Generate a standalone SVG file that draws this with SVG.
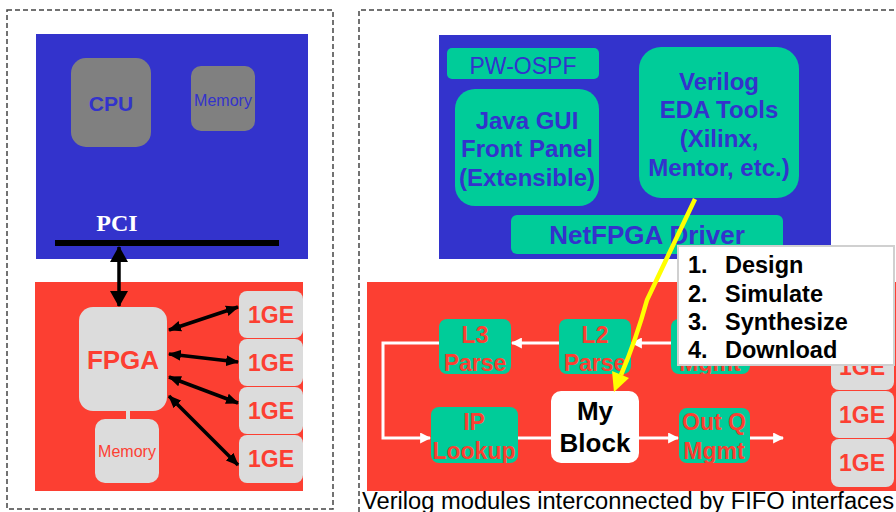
<svg xmlns="http://www.w3.org/2000/svg" width="896" height="512" viewBox="0 0 896 512">
<defs>
<style>
.frame{fill:none;stroke:#444;stroke-width:1.5;stroke-dasharray:5,3}
.blue{fill:#3333cc}
.red{fill:#fc3f32}
.gray{fill:#808080}
.lg{fill:#dcdcdc}
.grn{fill:#00cc99}
.t{font-family:"Liberation Sans",Arial,sans-serif;text-anchor:middle}
.b{font-weight:bold}
.tb{fill:#3333cc}
.tr{fill:#fc3f32}
.blk{stroke:#000;stroke-width:3.5;fill:none}
.wht{stroke:#fff;stroke-width:3;fill:none}
.list{font-family:"Liberation Sans",Arial,sans-serif;font-weight:bold;font-size:23.5px;fill:#000}
</style>
<marker id="ab" viewBox="0 0 12 10" refX="11" refY="5" markerWidth="13" markerHeight="11" markerUnits="userSpaceOnUse" orient="auto-start-reverse">
<path d="M0,0 L12,5 L0,10 Z" fill="#000"/>
</marker>
<marker id="aw" viewBox="0 0 10 10" refX="9" refY="5" markerWidth="11" markerHeight="11" markerUnits="userSpaceOnUse" orient="auto">
<path d="M0,0 L10,5 L0,10 Z" fill="#fff"/>
</marker>
<marker id="pciHead" viewBox="0 0 16 18" refX="15" refY="9" markerWidth="16" markerHeight="18" markerUnits="userSpaceOnUse" orient="auto-start-reverse">
<path d="M0,0 L16,9 L0,18 Z" fill="#000"/>
</marker>
</defs>

<!-- Left panel -->
<rect class="frame" x="7" y="10" width="326" height="499"/>
<rect class="blue" x="36" y="34" width="272" height="225"/>
<rect class="red" x="35" y="282" width="268" height="209"/>

<g id="cpu">
<rect class="gray" x="71" y="58" width="80" height="89" rx="15"/>
<text class="t b tb" x="111" y="111" font-size="21">CPU</text>
</g>
<g id="host-memory">
<rect class="gray" x="191" y="66" width="64" height="65" rx="10"/>
<text class="t tb" x="223" y="106" font-size="16">Memory</text>
</g>
<g id="pci">
<text x="117" y="231" font-family="'Liberation Serif','Times New Roman',serif" font-weight="bold" font-size="24" fill="#fff" text-anchor="middle">PCI</text>
<rect x="55" y="240" width="224" height="6" fill="#000"/>
</g>
<g id="fpga">
<rect class="lg" x="79" y="307" width="88" height="104" rx="14"/>
<text class="t b tr" x="123" y="369" font-size="26">FPGA</text>
</g>
<g id="fpga-memory">
<rect class="lg" x="126" y="410" width="4" height="10"/>
<rect class="lg" x="95" y="419" width="64" height="64" rx="10"/>
<text class="t tr" x="127" y="457" font-size="16">Memory</text>
</g>
<g id="ge-left-1"><rect class="lg" x="239" y="291" width="64" height="47" rx="8"/><text class="t b tr" x="271" y="323" font-size="23">1GE</text></g>
<g id="ge-left-2"><rect class="lg" x="239" y="339" width="64" height="47" rx="8"/><text class="t b tr" x="271" y="371" font-size="23">1GE</text></g>
<g id="ge-left-3"><rect class="lg" x="239" y="387" width="64" height="47" rx="8"/><text class="t b tr" x="271" y="419" font-size="23">1GE</text></g>
<g id="ge-left-4"><rect class="lg" x="239" y="435" width="64" height="48" rx="8"/><text class="t b tr" x="271" y="467" font-size="23">1GE</text></g>

<!-- Right panel -->
<path class="frame" d="M359,512 V10 H896"/>
<rect class="blue" x="439" y="35" width="392" height="224"/>
<rect class="red" x="367" y="282" width="529" height="209"/>

<g id="pw-ospf">
<rect class="grn" x="447" y="48" width="152" height="31" rx="5"/>
<text class="t tb" x="523" y="74" font-size="23">PW-OSPF</text>
</g>
<g id="java-gui">
<rect class="grn" x="455" y="89" width="144" height="117" rx="20"/>
<text class="t b tb" x="527" y="129" font-size="24">Java GUI</text>
<text class="t b tb" x="527" y="157" font-size="24">Front Panel</text>
<text class="t b tb" x="527" y="186" font-size="24">(Extensible)</text>
</g>
<g id="verilog-eda">
<rect class="grn" x="639" y="47" width="160" height="151" rx="22"/>
<text class="t b tb" x="719" y="90" font-size="24">Verilog</text>
<text class="t b tb" x="719" y="118" font-size="24">EDA Tools</text>
<text class="t b tb" x="719" y="147" font-size="24">(Xilinx,</text>
<text class="t b tb" x="719" y="176" font-size="24">Mentor, etc.)</text>
</g>
<g id="netfpga-driver">
<rect class="grn" x="511" y="215" width="272" height="39" rx="6"/>
<text class="t b tb" x="647" y="244" font-size="26">NetFPGA Driver</text>
</g>

<g id="l3-parse">
<rect class="grn" x="439" y="319" width="72" height="55" rx="8"/>
<text class="t b tr" x="475" y="343" font-size="23">L3</text>
<text class="t b tr" x="475" y="371" font-size="23">Parse</text>
</g>
<g id="l2-parse">
<rect class="grn" x="559" y="319" width="72" height="55" rx="8"/>
<text class="t b tr" x="595" y="343" font-size="23">L2</text>
<text class="t b tr" x="595" y="371" font-size="23">Parse</text>
</g>
<g id="in-q-mgmt">
<rect class="grn" x="671" y="319" width="79" height="55" rx="8"/>
<text class="t b tr" x="710" y="371" font-size="23">Mgmt</text>
</g>
<g id="ip-lookup">
<rect class="grn" x="431" y="407" width="87" height="56" rx="8"/>
<text class="t b tr" x="474" y="430" font-size="23">IP</text>
<text class="t b tr" x="474" y="459" font-size="23">Lookup</text>
</g>
<g id="my-block">
<rect x="551" y="391" width="88" height="72" rx="10" fill="#fff"/>
<text class="t b" x="595" y="420" font-size="26" fill="#000">My</text>
<text class="t b" x="595" y="452" font-size="26" fill="#000">Block</text>
</g>
<g id="out-q-mgmt">
<rect class="grn" x="679" y="408" width="71" height="55" rx="8"/>
<text class="t b tr" x="714" y="430" font-size="23">Out Q</text>
<text class="t b tr" x="714" y="459" font-size="23">Mgmt</text>
</g>

<g id="ge-right-1"><rect class="lg" x="831" y="295" width="63" height="47" rx="8"/><text class="t b tr" x="862" y="327" font-size="23">1GE</text></g>
<g id="ge-right-2"><rect class="lg" x="831" y="343" width="63" height="47" rx="8"/><text class="t b tr" x="862" y="375" font-size="23">1GE</text></g>
<g id="ge-right-3"><rect class="lg" x="831" y="391" width="63" height="47" rx="8"/><text class="t b tr" x="862" y="423" font-size="23">1GE</text></g>
<g id="ge-right-4"><rect class="lg" x="831" y="439" width="63" height="48" rx="8"/><text class="t b tr" x="862" y="471" font-size="23">1GE</text></g>

<!-- Connectors -->
<g id="connectors">
<line class="blk" x1="119" y1="247" x2="119" y2="306" stroke-width="4" marker-start="url(#pciHead)" marker-end="url(#pciHead)"/>
<line class="blk" x1="169" y1="330" x2="238" y2="307" marker-start="url(#ab)" marker-end="url(#ab)"/>
<line class="blk" x1="169" y1="354" x2="238" y2="362" marker-start="url(#ab)" marker-end="url(#ab)"/>
<line class="blk" x1="169" y1="377" x2="238" y2="403" marker-start="url(#ab)" marker-end="url(#ab)"/>
<line class="blk" x1="169" y1="396" x2="238" y2="465" marker-start="url(#ab)" marker-end="url(#ab)"/>

<line class="wht" x1="671" y1="343" x2="632" y2="343" marker-end="url(#aw)"/>
<line class="wht" x1="559" y1="343" x2="512" y2="343" marker-end="url(#aw)"/>
<path class="wht" d="M439,343 H383 V438 H430" marker-end="url(#aw)"/>
<line class="wht" x1="518" y1="438" x2="551" y2="438"/>
<line class="wht" x1="639" y1="438" x2="678" y2="438" marker-end="url(#aw)"/>
<line class="wht" x1="750" y1="438" x2="783" y2="438" marker-end="url(#aw)"/>

<path d="M695,199 L647,300 Q636,340 621,375" fill="none" stroke="#ffff00" stroke-width="4.5"/>
<polygon points="614,392 629,378 612,371" fill="#ffff00"/>
</g>

<g id="steps-list">
<rect x="678" y="246" width="216" height="119" fill="#fff" stroke="#d0d0d0" stroke-width="2"/>
<text class="list" x="688" y="273">1.</text><text class="list" x="725" y="273">Design</text>
<text class="list" x="688" y="302">2.</text><text class="list" x="725" y="302">Simulate</text>
<text class="list" x="688" y="330">3.</text><text class="list" x="725" y="330">Synthesize</text>
<text class="list" x="688" y="358">4.</text><text class="list" x="725" y="358">Download</text>
</g>

<text id="caption" x="362" y="509" font-family="'Liberation Sans',Arial,sans-serif" font-size="23.5" fill="#000" textLength="532" lengthAdjust="spacingAndGlyphs">Verilog modules interconnected by FIFO interfaces</text>
</svg>
